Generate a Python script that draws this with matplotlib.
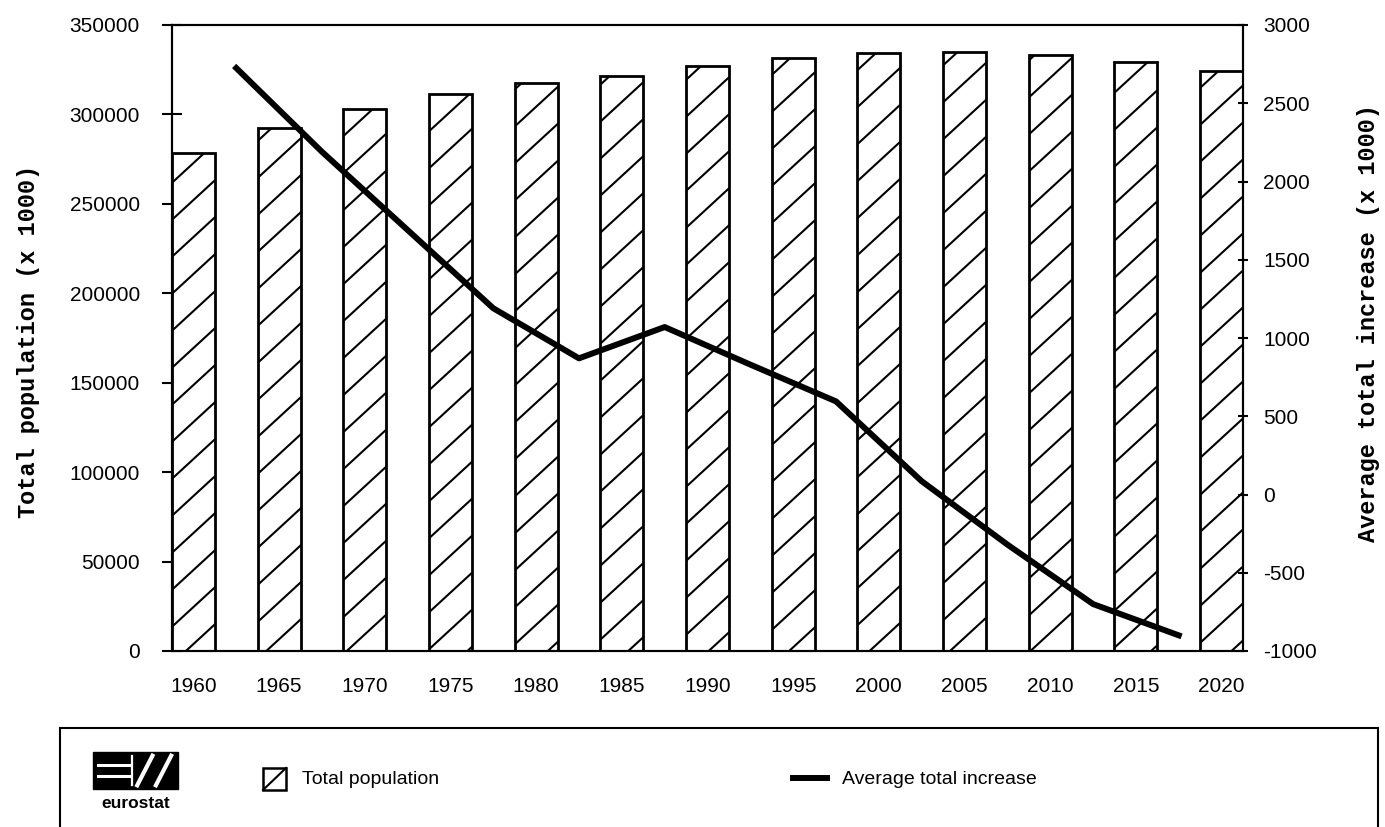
import matplotlib
matplotlib.use('Agg')
import matplotlib.pyplot as plt
import numpy as np
from matplotlib.patches import Rectangle
from matplotlib.collections import LineCollection
from matplotlib.lines import Line2D
from matplotlib.transforms import IdentityTransform

plt.rcParams['font.family'] = ['Liberation Sans', 'DejaVu Sans']
plt.rcParams['axes.unicode_minus'] = False

# data
years = [1960, 1965, 1970, 1975, 1980, 1985, 1990, 1995, 2000, 2005, 2010, 2015, 2020]
total_population = [278200, 292400, 303000, 311400, 317600, 321600, 327200,
                    331400, 334200, 334700, 333200, 329500, 324400]
increase_years = [1962.5, 1967.5, 1972.5, 1977.5, 1982.5, 1987.5,
                  1992.5, 1997.5, 2002.5, 2007.5, 2012.5, 2017.5]
average_increase = [2725, 2190, 1690, 1190, 870, 1070, 830, 595, 85, -320, -700, -900]

left_ticks = list(range(0, 350001, 50000))
right_ticks = list(range(-1000, 3001, 500))

W, H = 1385, 827


def fx(x):
    return x / W


def fy(y):
    return 1 - y / H


fig = plt.figure(figsize=(W / 100, H / 100), dpi=100)
ax = fig.add_axes([fx(172), fy(651), (1243 - 172) / W, (651 - 25) / H])

bars = ax.bar(years, total_population, width=2.5, color='white',
              edgecolor='black', linewidth=2.0, zorder=2)
ax.set_xlim(1958.75, 2021.25)
ax.set_ylim(0, 350000)
ax.set_xticks(years)
ax.set_yticks(left_ticks)
ax.set_yticklabels([str(t) for t in left_ticks])

# sparse diagonal hatch, drawn in pixels and clipped to each bar
slope = 0.92
gap = 37.0
offset = 5.0
for b in bars:
    bb = b.get_window_extent()
    k0 = int(np.floor((bb.y0 - slope * bb.x1 - offset) / gap)) - 1
    k1 = int(np.ceil((bb.y1 - slope * bb.x0 - offset) / gap)) + 1
    segs = []
    for k in range(k0, k1 + 1):
        xa, xb = bb.x0 - 3, bb.x1 + 3
        segs.append([(xa, slope * xa + k * gap + offset),
                     (xb, slope * xb + k * gap + offset)])
    lc = LineCollection(segs, colors='black', linewidths=1.5,
                        transform=IdentityTransform(), zorder=2.5)
    ax.add_collection(lc, autolim=False)
    lc.set_clip_path(b)

ax2 = ax.twinx()
ax2.plot(increase_years, average_increase, color='black', lw=4.3, zorder=5)
ax2.set_ylim(-1000, 3000)
ax2.set_yticks(right_ticks)

for a in (ax, ax2):
    for s in a.spines.values():
        s.set_linewidth(1.5)

ax.tick_params(axis='y', direction='inout', length=13.7, width=1.5, pad=16.2, labelsize=15)
ax.tick_params(axis='x', length=0, pad=18.7, labelsize=15)
ax2.tick_params(axis='y', direction='inout', length=7, width=1.5, pad=10.9, labelsize=15)

ax.set_ylabel('Total population (x 1000)', family='Liberation Mono',
              weight='bold', fontsize=17)
ax.yaxis.set_label_coords(-0.123, 0.494)
ax2.set_ylabel('Average total increase (x 1000)', family='Liberation Mono',
               weight='bold', fontsize=17)
ax2.yaxis.set_label_coords(1.1065, 0.524)

# legend frame (open at the bottom edge of the page)
fig.add_artist(Rectangle((fx(60), -0.05), (1378 - 60) / W, fy(728) + 0.05,
                         transform=fig.transFigure, fill=False, lw=1.5,
                         edgecolor='black', clip_on=False))

# eurostat logo
lx0, lx1, ly0, ly1 = 93, 178, 752, 789
fig.add_artist(Rectangle((fx(lx0), fy(ly1)), (lx1 - lx0) / W, (ly1 - ly0) / H,
                         transform=fig.transFigure, color='black'))


def logo_line(u0, v0, u1, v1, lw=2.2):
    xs = [fx(lx0 + u0 * (lx1 - lx0)), fx(lx0 + u1 * (lx1 - lx0))]
    ys = [fy(ly0 + v0 * (ly1 - ly0)), fy(ly0 + v1 * (ly1 - ly0))]
    fig.add_artist(Line2D(xs, ys, color='white', lw=lw, transform=fig.transFigure))


logo_line(0.06, 0.36, 0.42, 0.36)
logo_line(0.06, 0.66, 0.42, 0.66)
logo_line(0.46, 0.12, 0.46, 0.88, lw=1.6)
logo_line(0.52, 0.9, 0.70, 0.1, lw=3)
logo_line(0.74, 0.9, 0.92, 0.1, lw=3)
fig.text(fx(135.5), fy(803), 'eurostat', ha='center', va='center',
         weight='bold', fontsize=12.5)

# legend entries
fig.add_artist(Rectangle((fx(263), fy(790)), 23 / W, 22 / H,
                         transform=fig.transFigure, facecolor='white',
                         edgecolor='black', lw=1.8))
fig.add_artist(Line2D([fx(263), fx(286)], [fy(790), fy(768)], color='black',
                      lw=1.5, transform=fig.transFigure))
fig.text(fx(302), fy(779), 'Total population', ha='left', va='center', fontsize=14)
fig.add_artist(Line2D([fx(793), fx(827)], [fy(778), fy(778)], color='black',
                      lw=4.3, transform=fig.transFigure))
fig.text(fx(842), fy(779), 'Average total increase', ha='left', va='center', fontsize=14)

fig.savefig('out.png', dpi=100)
